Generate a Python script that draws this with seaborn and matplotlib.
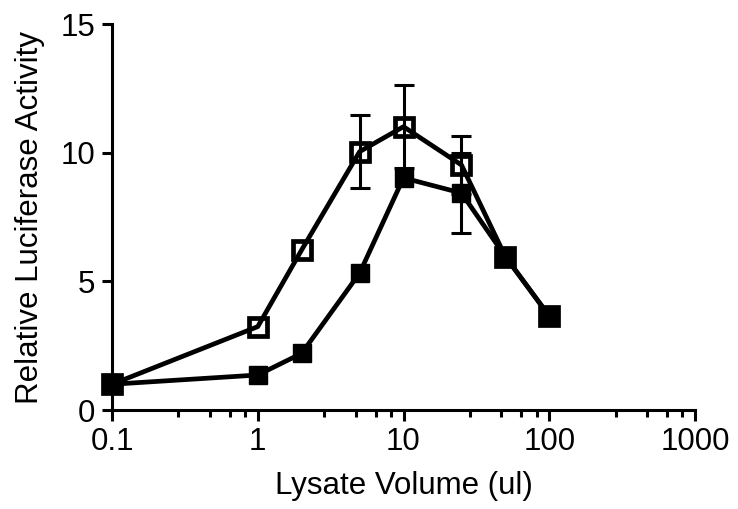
import numpy as np
import pandas as pd
import matplotlib
matplotlib.use("Agg")
import matplotlib.pyplot as plt
import seaborn as sns
from matplotlib.ticker import FixedLocator, FixedFormatter, NullFormatter

# ---- data ----
volume = [0.1, 1, 2, 5, 10, 25, 50, 100]
open_mean = [1.0, 3.24, 6.22, 10.04, 11.01, 9.52, 5.96, 3.65]
open_err = [0, 0, 0, 1.42, 1.62, 1.13, 0, 0]
filled_mean = [1.0, 1.36, 2.20, 5.32, 9.02, 8.43, 5.96, 3.65]
filled_err = [0, 0, 0, 0, 0, 1.55, 0, 0]

x_ticks = [0.1, 1, 10, 100, 1000]
x_tick_labels = ["0.1", "1", "10", "100", "1000"]
x_minor_mult = [2.85, 4.7, 6.45, 8.2]
y_ticks = [0, 5, 10, 15]

sns.set_theme(style="ticks")
plt.rcParams["font.family"] = ["Liberation Sans", "DejaVu Sans"]

FS = 22.5

fig = plt.figure(figsize=(7.38, 5.09), dpi=100)
ax = fig.add_axes([112 / 738, 1 - 410 / 509, 583 / 738, 386 / 509])

df_open = pd.DataFrame({"volume": volume, "activity": open_mean})
df_filled = pd.DataFrame({"volume": volume, "activity": filled_mean})

# error bars (only where an error was drawn)
for mean, err in ((open_mean, open_err), (filled_mean, filled_err)):
    v = np.array(volume)
    m = np.array(mean)
    e = np.array(err)
    mask = e > 0
    ax.errorbar(v[mask], m[mask], yerr=e[mask], fmt="none", ecolor="black",
                elinewidth=2.2, capsize=7.5, capthick=2.2, zorder=2,
                clip_on=False)

sns.lineplot(data=df_open, x="volume", y="activity", ax=ax, color="black",
             estimator=None, errorbar=None, sort=False,
             marker="s", markersize=13.5, markerfacecolor="none",
             markeredgecolor="black", markeredgewidth=3.4,
             linewidth=3.4, zorder=3, clip_on=False)
sns.lineplot(data=df_filled, x="volume", y="activity", ax=ax, color="black",
             estimator=None, errorbar=None, sort=False,
             marker="s", markersize=13.5, markerfacecolor="black",
             markeredgecolor="black", markeredgewidth=1.0,
             linewidth=3.4, zorder=4, clip_on=False)

ax.set_xscale("log")
ax.set_xlim(0.1, 1000)
ax.set_ylim(0, 15)

ax.xaxis.set_major_locator(FixedLocator(x_ticks))
ax.xaxis.set_major_formatter(FixedFormatter(x_tick_labels))
minor = [m * 10.0 ** k for k in range(-1, 3) for m in x_minor_mult]
ax.xaxis.set_minor_locator(FixedLocator(minor))
ax.xaxis.set_minor_formatter(NullFormatter())
ax.set_yticks(y_ticks)
ax.set_yticklabels([str(t) for t in y_ticks])

for side in ("top", "right"):
    ax.spines[side].set_visible(False)
for side in ("left", "bottom"):
    ax.spines[side].set_linewidth(2.2)
    ax.spines[side].set_color("black")

ax.tick_params(axis="x", which="major", length=8, width=2.2, labelsize=FS,
               pad=4, colors="black", direction="out")
ax.tick_params(axis="x", which="minor", length=5, width=2.2,
               colors="black", direction="out")
ax.tick_params(axis="y", which="major", length=7, width=2.2, labelsize=FS,
               pad=5, colors="black", direction="out")

ax.set_xlabel("Lysate Volume (ul)", fontsize=FS, color="black", labelpad=10)
ax.set_ylabel("Relative Luciferase Activity", fontsize=FS, color="black",
              labelpad=11)
ax.set_facecolor("white")
fig.patch.set_facecolor("white")

fig.savefig("out.png", dpi=100)
